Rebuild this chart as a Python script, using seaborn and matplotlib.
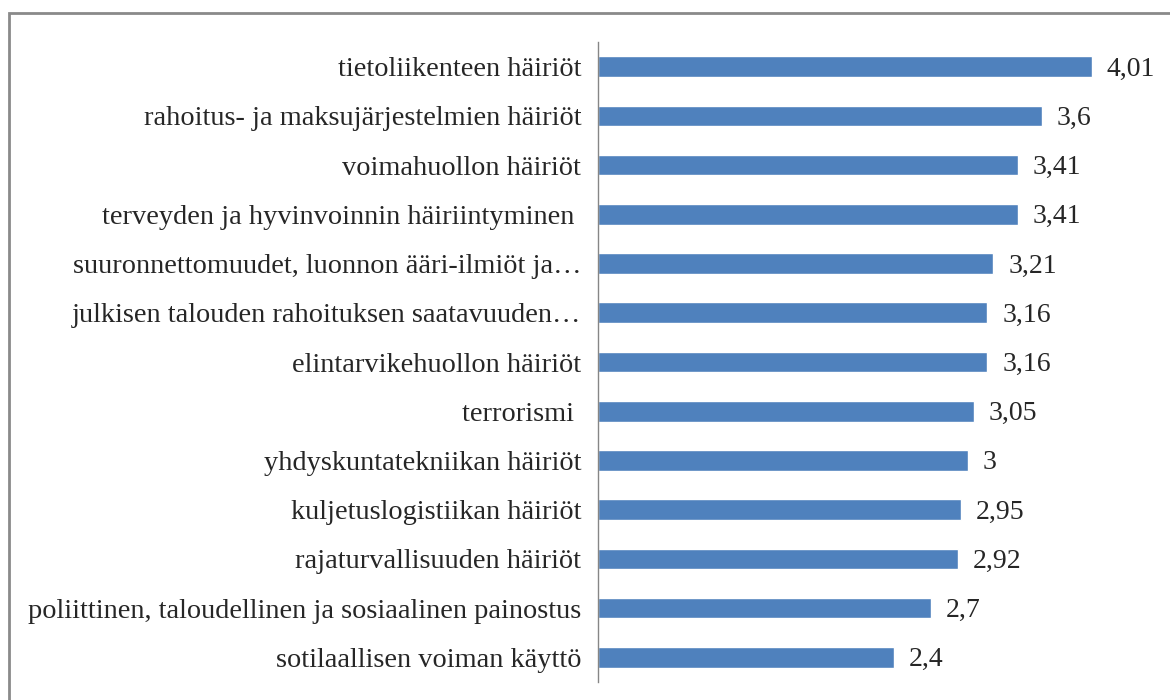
import pandas as pd
import matplotlib.pyplot as plt
import seaborn as sns
from matplotlib.patches import Rectangle

# Kategoriat ja keskiarvot (luettu kuvasta)
kategoriat = [
    "tietoliikenteen häiriöt",
    "rahoitus- ja maksujärjestelmien häiriöt",
    "voimahuollon häiriöt",
    "terveyden ja hyvinvoinnin häiriintyminen ",
    "suuronnettomuudet, luonnon ääri-ilmiöt ja…",
    "julkisen talouden rahoituksen saatavuuden…",
    "elintarvikehuollon häiriöt",
    "terrorismi ",
    "yhdyskuntatekniikan häiriöt",
    "kuljetuslogistiikan häiriöt",
    "rajaturvallisuuden häiriöt",
    "poliittinen, taloudellinen ja sosiaalinen painostus",
    "sotilaallisen voiman käyttö",
]
arvot = [4.01, 3.6, 3.41, 3.41, 3.21, 3.16, 3.16, 3.05, 3.0, 2.95, 2.92, 2.7, 2.4]
arvo_tekstit = ["4,01", "3,6", "3,41", "3,41", "3,21", "3,16", "3,16",
                "3,05", "3", "2,95", "2,92", "2,7", "2,4"]

df = pd.DataFrame({"kategoria": kategoriat, "arvo": arvot})

sns.set_style("white")
plt.rcParams["font.family"] = ["Liberation Serif", "DejaVu Serif"]

fig = plt.figure(figsize=(11.7, 7.0), dpi=100)
ax = fig.add_axes([598 / 1170, 1 - 682 / 700, (1160 - 598) / 1170, 640 / 700])

sns.barplot(data=df, x="arvo", y="kategoria", color="#4F81BD", saturation=1,
            width=0.42, ax=ax)

# Arvotekstit palkkien perään
for i, (v, t) in enumerate(zip(arvot, arvo_tekstit)):
    ax.text(v + 0.12, i + 0.05, t, va="center", ha="left", fontsize=20,
            color="#262626")

ax.set_xlim(0, (1160 - 598) / 123.2)
ax.set_ylim(12.5, -0.5)
ax.set_xlabel("")
ax.set_ylabel("")
ax.set_xticks([])
ax.tick_params(axis="y", length=0, pad=12, labelsize=20.4, labelcolor="#262626")
for s in ["top", "right", "bottom"]:
    ax.spines[s].set_visible(False)
ax.spines["left"].set_color("#868686")
ax.spines["left"].set_linewidth(1.0)

# Harmaa kehys kaavion ympärillä
fig.patches.append(Rectangle((9 / 1170, -0.05), 1.1, 1 - 13 / 700 + 0.05,
                             transform=fig.transFigure, fill=False,
                             edgecolor="#8a8a8a", linewidth=2))

fig.savefig("out.png", dpi=100)
